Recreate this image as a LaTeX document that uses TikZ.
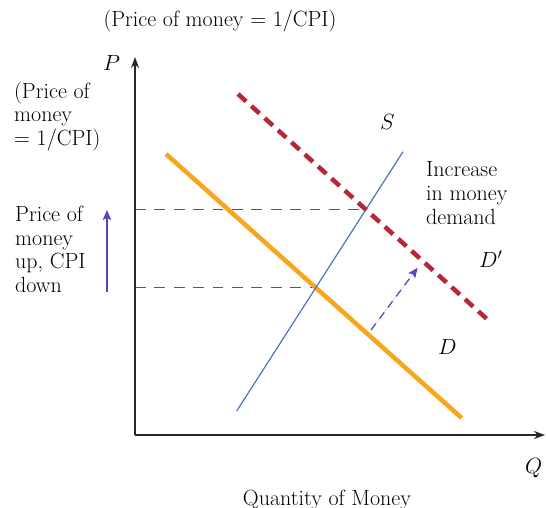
\RequirePackage{fix-cm}
\documentclass[tikz,border=0pt]{standalone}
\usetikzlibrary{arrows.meta,intersections}
\definecolor{mpurple}{RGB}{95,68,188}
\definecolor{sblue}{RGB}{75,115,200}
\definecolor{dorange}{RGB}{247,166,30}
\definecolor{dred}{RGB}{180,40,55}
\begin{document}
\begin{tikzpicture}[x=1pt,y=-1pt,
  lbl/.style={font=\fontsize{22}{23.8}\selectfont, inner sep=0pt},
  axisline/.style={line width=1.5pt, draw=black!85, -{Stealth[length=11pt,width=8pt]}},
  sline/.style={draw=sblue, line width=1.2pt},
  dline/.style={draw=dorange, line width=4.5pt},
  dpline/.style={draw=dred, line width=4.5pt, dash pattern=on 11pt off 7pt},
  guide/.style={draw=mpurple, line width=1.5pt, dash pattern=on 10.7pt off 8.7pt},
  parrow/.style={draw=mpurple, fill=mpurple, line width=1.4pt, -{Stealth[length=10pt,width=8.5pt,inset=2pt]}},
  pdarrow/.style={parrow, line width=1.3pt, dash pattern=on 8pt off 6pt}]
\useasboundingbox (0,0) rectangle (546,508);
% coordinates
\coordinate (O) at (135,435);
\coordinate (Ytop) at (135,57);
\coordinate (Xend) at (545,435);
\coordinate (S1) at (236.7,411);
\coordinate (S2) at (403,151.7);
\coordinate (D1) at (166,154);
\coordinate (D2) at (461.7,418);
\coordinate (Dp1) at (238,94);
\coordinate (Dp2) at (488,320);
\path[name path=S] (S1) -- (S2);
\path[name path=D] (D1) -- (D2);
\path[name path=Dp] (Dp1) -- (Dp2);
\path[name intersections={of=S and D, by=E1}];
\path[name intersections={of=S and Dp, by=E2}];
% guides
\draw[guide] (O |- E2) -- (E2);
\draw[guide] (O |- E1) -- (E1);
% curves
\draw[dline] (D1) -- (D2);
\draw[sline] (S1) -- (S2);
\draw[dpline] (Dp1) -- (Dp2);
% axes
\draw[axisline] (O) -- (Ytop);
\draw[axisline] (O) -- (Xend);
% arrows
\coordinate (Ua) at (107,292);
\coordinate (Ub) at (107,210);
\draw[parrow] (Ua) -- (Ub);
\coordinate (Sa) at (371,330);
\coordinate (Sb) at (417.7,267.7);
\draw[pdarrow] (Sa) -- (Sb);
% labels
\node[lbl, anchor=base] (title) at (220,27) {(Price of money = 1/CPI)};
\node[lbl, anchor=base west] (Plab) at (103,71) {$P$};
\node[lbl, anchor=north west, align=left] (pm1) at (14,81.5) {(Price of\\money\\= 1/CPI)};
\node[lbl, anchor=north west, align=left] (pm2) at (15,205.7) {Price of\\money\\up, CPI\\down};
\node[lbl, anchor=north west, align=left] (inc) at (426,161.5) {Increase\\in money\\demand};
\node[lbl, anchor=base west] (Slab) at (380,130) {$S$};
\node[lbl, anchor=base west] (Dplab) at (479,267) {$D'$};
\node[lbl, anchor=base west] (Dlab) at (438,354) {$D$};
\node[lbl, anchor=base west] (Qlab) at (525,473) {$Q$};
\node[lbl, anchor=base] (qm) at (327,505) {Quantity of Money};
\end{tikzpicture}
\end{document}
